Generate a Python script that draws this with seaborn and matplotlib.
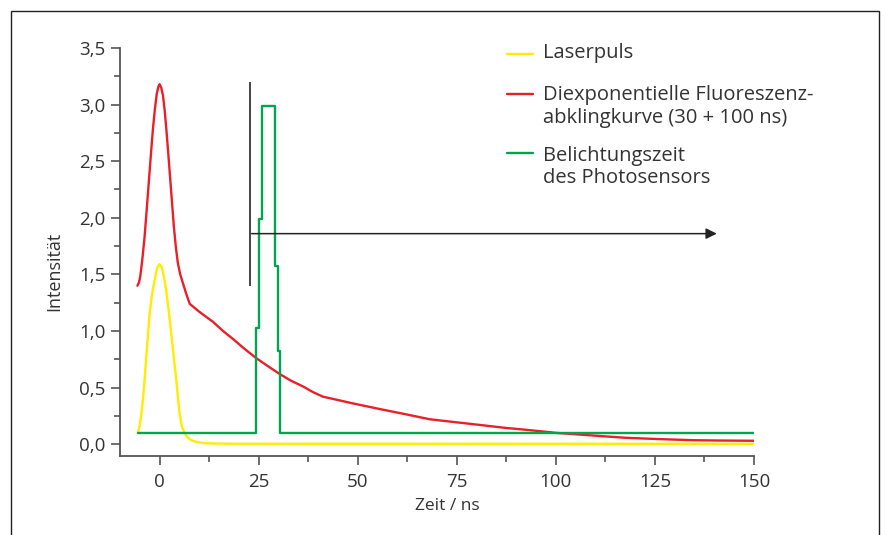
#!/usr/bin/env python3
"""
Purpose: Laserpuls, Fluoreszenzabklingkurve und Belichtungszeit
"""

import matplotlib
matplotlib.use('Agg')
import matplotlib.pyplot as plt
import seaborn as sns
from matplotlib.patches import Rectangle
from matplotlib.ticker import FuncFormatter, MultipleLocator

# laser pulse (yellow)
laser_t = [-5.5, -5.0, -4.6, -4.2, -3.8, -3.2, -2.5, -1.9, -1.26, -0.6, 0,
           0.6, 1.26, 1.8, 2.36, 3.0, 3.6, 4.2, 4.6, 5.05, 5.6, 6.3, 7.0,
           8.0, 9.5, 11.8, 15, 20, 150]
laser_i = [0.10, 0.17, 0.27, 0.40, 0.57, 0.85, 1.16, 1.33, 1.45, 1.56, 1.59,
           1.56, 1.45, 1.32, 1.16, 0.95, 0.76, 0.57, 0.42, 0.27, 0.16, 0.10,
           0.06, 0.035, 0.018, 0.008, 0.005, 0.004, 0.003]

# biexponential fluorescence decay (red)
decay_t = [-5.6, -5.2, -4.9, -4.4, -3.8, -3.2, -2.7, -2.2, -1.7, -1.2, -0.7,
           -0.3, 0, 0.4, 0.85, 1.3, 1.7, 2.2, 2.7, 3.2, 3.6, 4.1, 4.6, 5.2,
           5.9, 6.7, 7.6, 10, 13.5, 16, 18.5, 21.5, 24.4, 27.3, 30.3, 33.2,
           36.2, 38.7, 41.2, 45, 48.8, 55.6, 62, 68.2, 74.5, 80.8, 87, 93.4,
           100, 106, 112, 117.8, 126, 134.7, 142, 150]
decay_i = [1.40, 1.43, 1.48, 1.62, 1.83, 2.10, 2.33, 2.56, 2.78, 2.96, 3.10,
           3.16, 3.18, 3.15, 3.08, 2.94, 2.78, 2.56, 2.33, 2.10, 1.92, 1.74,
           1.60, 1.50, 1.42, 1.33, 1.24, 1.17, 1.08, 1.00, 0.93, 0.84, 0.76,
           0.69, 0.62, 0.56, 0.51, 0.46, 0.42, 0.39, 0.36, 0.31, 0.265, 0.22,
           0.195, 0.17, 0.145, 0.124, 0.10, 0.085, 0.07, 0.056, 0.045, 0.035,
           0.032, 0.03]

# exposure window of the photo sensor (green, steps)
gate_t = [-5.5, 24.2, 25.1, 25.8, 29.0, 29.9, 30.5, 150]
gate_i = [0.10, 1.03, 1.99, 2.99, 1.57, 0.82, 0.10, 0.10]

# marker line and arrow
marker_t = 22.7
marker_span = [1.40, 3.20]
arrow_t = [23.2, 140.6]
arrow_i = 1.86

legend_labels = [['Laserpuls'],
                 ['Diexponentielle Fluoreszenz-', 'abklingkurve (30 + 100 ns)'],
                 ['Belichtungszeit', 'des Photosensors']]

YELLOW = '#FFEC00'
RED = '#E8202A'
GREEN = '#00A550'
TEXT = '#333333'
AXIS = '#555555'


# --------------------------------------------------
def main():
    """Draw it"""
    sns.set_style('ticks')
    plt.rcParams['font.family'] = ['Open Sans', 'DejaVu Sans']

    fig = plt.figure(figsize=(8.85, 5.35), dpi=100)
    ax = fig.add_axes([120 / 885, 1 - 455.5 / 535, 634 / 885, 407.5 / 535])

    sns.lineplot(x=laser_t, y=laser_i, ax=ax, color=YELLOW, lw=1.7,
                 sort=False, estimator=None)
    sns.lineplot(x=decay_t, y=decay_i, ax=ax, color=RED, lw=1.7,
                 sort=False, estimator=None)
    sns.lineplot(x=gate_t, y=gate_i, ax=ax, color=GREEN, lw=1.7,
                 sort=False, estimator=None, drawstyle='steps-post')

    ax.vlines(marker_t, *marker_span, color='#444444', lw=1.4)
    ax.annotate('', xy=(arrow_t[1], arrow_i), xytext=(arrow_t[0], arrow_i),
                arrowprops=dict(arrowstyle='-|>', color='#222222', lw=1.1,
                                mutation_scale=16, shrinkA=0, shrinkB=0))

    ax.set_xlim(-10, 150)
    ax.set_ylim(-0.1, 3.5)
    ax.xaxis.set_major_locator(MultipleLocator(25))
    ax.xaxis.set_minor_locator(MultipleLocator(12.5))
    ax.yaxis.set_major_locator(MultipleLocator(0.5))
    ax.yaxis.set_minor_locator(MultipleLocator(0.25))
    ax.yaxis.set_major_formatter(
        FuncFormatter(lambda v, p: '{:.1f}'.format(v).replace('.', ',')))

    for side in ['top', 'right']:
        ax.spines[side].set_visible(False)
    for side in ['left', 'bottom']:
        ax.spines[side].set_color(AXIS)
        ax.spines[side].set_linewidth(1.3)

    ax.tick_params(which='major', length=6.5, width=1.2, color=AXIS,
                   labelcolor=TEXT, labelsize=13.5)
    ax.tick_params(which='minor', length=4, width=1.2, color=AXIS)
    ax.tick_params(axis='y', pad=4)
    ax.tick_params(axis='x', pad=6)

    ax.set_xlabel('Zeit / ns', fontsize=12.5, color=TEXT)
    ax.set_ylabel('Intensität', fontsize=13, color=TEXT)
    ax.xaxis.set_label_coords((447.5 - 120) / 634, -0.105)
    ax.yaxis.set_label_coords((63 - 120) / 634, (455.5 - 271) / 407.5)

    # legend drawn by hand, handle next to first line of each label
    colors = [YELLOW, RED, GREEN]
    handle_y = [54, 94, 152.7]
    first_base = [58.3, 100, 160.7]
    for color, hy, base, lines in zip(colors, handle_y, first_base,
                                      legend_labels):
        fig.add_artist(plt.Line2D([506.7 / 885, 532.7 / 885],
                                  [1 - hy / 535, 1 - hy / 535],
                                  color=color, lw=1.7))
        for k, line in enumerate(lines):
            fig.text(542.7 / 885, 1 - (base + k * 22.5) / 535, line,
                     fontsize=14.5, color=TEXT, va='baseline', ha='left')

    # frame round the figure, open at the bottom
    fig.add_artist(Rectangle((11 / 885, -0.1), 868 / 885, 1.1 - 11 / 535,
                             transform=fig.transFigure, fill=False,
                             edgecolor='#222222', lw=1.0))

    fig.savefig('out.png', dpi=100)


# --------------------------------------------------
if __name__ == '__main__':
    main()
